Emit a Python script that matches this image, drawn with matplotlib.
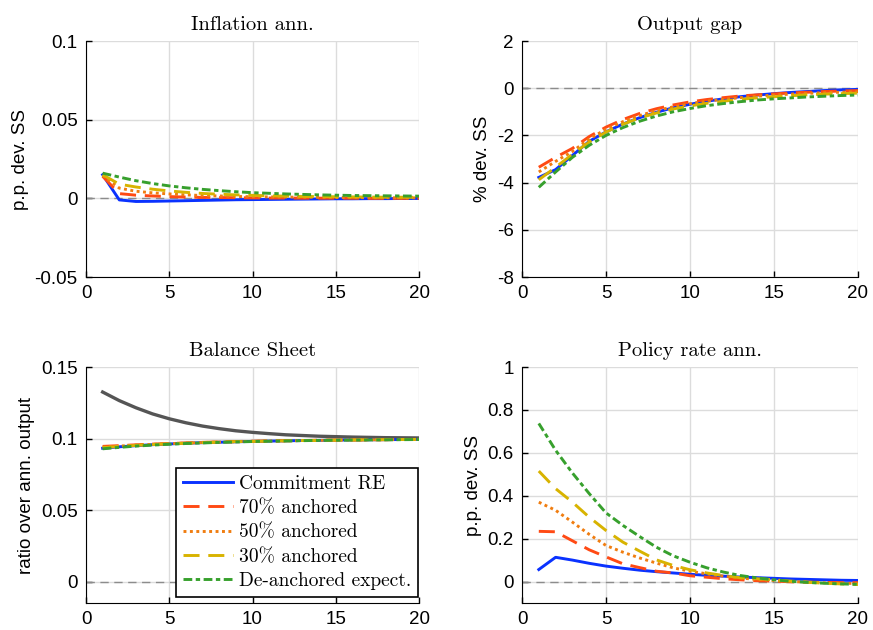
import numpy as np
import matplotlib
matplotlib.use("Agg")
import matplotlib.pyplot as plt

plt.rcParams['font.family'] = ['Liberation Sans', 'DejaVu Sans']
plt.rcParams['axes.unicode_minus'] = False

# horizon
t = np.arange(1, 21)

labels = ['Commitment RE', '70% anchored', '50% anchored', '30% anchored', 'De-anchored expect.']

# Inflation ann.
infl_re = [0.015, -0.001, -0.002, -0.0019, -0.0017, -0.0015, -0.0013, -0.0011, -0.0009, -0.0008,
           -0.0007, -0.0006, -0.0005, -0.0004, -0.0003, -0.0003, -0.0002, -0.0002, -0.0001, -0.0001]
infl_70 = [0.014, 0.003, 0.002, 0.0015, 0.0011, 0.0008, 0.0006, 0.0005, 0.0004, 0.0003,
           0.0002, 0.0002, 0.0001, 0.0001, 0.0001, 0.0001, 0.0, 0.0, 0.0, 0.0]
infl_50 = [0.0145, 0.0065, 0.0045, 0.0035, 0.0028, 0.0022, 0.0018, 0.0015, 0.0012, 0.001,
           0.0009, 0.0008, 0.0007, 0.0006, 0.0005, 0.0005, 0.0004, 0.0004, 0.0003, 0.0003]
infl_30 = [0.015, 0.009, 0.0072, 0.0058, 0.0047, 0.0038, 0.0031, 0.0026, 0.0022, 0.0019,
           0.0016, 0.0014, 0.0012, 0.0011, 0.001, 0.0009, 0.0008, 0.0007, 0.0007, 0.0006]
infl_de = [0.016, 0.0135, 0.0112, 0.0094, 0.0079, 0.0067, 0.0057, 0.0049, 0.0042, 0.0036,
           0.0032, 0.0028, 0.0025, 0.0022, 0.002, 0.0018, 0.0017, 0.0016, 0.0015, 0.0014]

# Output gap
gap_re = [-3.78, -3.45, -2.85, -2.25, -1.85, -1.52, -1.25, -1.02, -0.83, -0.68,
          -0.55, -0.45, -0.36, -0.29, -0.23, -0.18, -0.14, -0.1, -0.07, -0.05]
gap_70 = [-3.35, -2.93, -2.55, -2.05, -1.65, -1.33, -1.07, -0.87, -0.71, -0.58,
          -0.48, -0.4, -0.33, -0.28, -0.24, -0.2, -0.17, -0.14, -0.12, -0.1]
gap_50 = [-3.55, -3.1, -2.68, -2.15, -1.74, -1.42, -1.16, -0.95, -0.79, -0.66,
          -0.55, -0.47, -0.4, -0.34, -0.29, -0.25, -0.22, -0.19, -0.17, -0.15]
gap_30 = [-3.88, -3.35, -2.8, -2.28, -1.86, -1.53, -1.26, -1.05, -0.88, -0.75,
          -0.64, -0.55, -0.47, -0.41, -0.36, -0.32, -0.28, -0.25, -0.23, -0.21]
gap_de = [-4.2, -3.55, -2.93, -2.42, -2.0, -1.67, -1.4, -1.18, -1.0, -0.86,
          -0.74, -0.65, -0.57, -0.5, -0.45, -0.41, -0.37, -0.34, -0.31, -0.29]

# Balance sheet
bs_gray = [0.1325, 0.1265, 0.1215, 0.1172, 0.1138, 0.1110, 0.1087, 0.1069, 0.1054, 0.1043,
           0.1034, 0.1026, 0.1021, 0.1016, 0.1013, 0.1010, 0.1008, 0.1006, 0.1005, 0.1004]
bs_re = [0.0932, 0.0942, 0.0950, 0.0957, 0.0962, 0.0967, 0.0971, 0.0974, 0.0977, 0.0980,
         0.0982, 0.0984, 0.0986, 0.0987, 0.0989, 0.0990, 0.0991, 0.0992, 0.0993, 0.0994]
bs_70 = [0.0945, 0.0950, 0.0956, 0.0961, 0.0965, 0.0969, 0.0973, 0.0976, 0.0979, 0.0981,
         0.0983, 0.0985, 0.0986, 0.0988, 0.0989, 0.0990, 0.0991, 0.0992, 0.0993, 0.0994]
bs_50 = [0.0940, 0.0947, 0.0954, 0.0959, 0.0964, 0.0968, 0.0972, 0.0975, 0.0978, 0.0980,
         0.0982, 0.0984, 0.0986, 0.0987, 0.0989, 0.0990, 0.0991, 0.0992, 0.0993, 0.0994]
bs_30 = [0.0936, 0.0945, 0.0952, 0.0958, 0.0963, 0.0967, 0.0971, 0.0975, 0.0978, 0.0980,
         0.0982, 0.0984, 0.0986, 0.0987, 0.0989, 0.0990, 0.0991, 0.0992, 0.0993, 0.0994]
bs_de = [0.0928, 0.0938, 0.0947, 0.0954, 0.0960, 0.0965, 0.0969, 0.0973, 0.0976, 0.0979,
         0.0981, 0.0983, 0.0985, 0.0987, 0.0988, 0.0989, 0.0990, 0.0991, 0.0992, 0.0993]

# Policy rate ann.
rate_re = [0.056, 0.113, 0.1, 0.085, 0.072, 0.062, 0.053, 0.046, 0.04, 0.034,
           0.029, 0.025, 0.021, 0.018, 0.015, 0.012, 0.01, 0.008, 0.006, 0.005]
rate_70 = [0.234, 0.232, 0.19, 0.148, 0.115, 0.083, 0.065, 0.048, 0.04, 0.027,
           0.02, 0.013, 0.008, 0.004, 0.002, -0.001, -0.003, -0.004, -0.005, -0.005]
rate_50 = [0.37, 0.332, 0.277, 0.22, 0.168, 0.137, 0.11, 0.086, 0.064, 0.048,
           0.036, 0.025, 0.016, 0.01, 0.005, 0.0, -0.003, -0.006, -0.008, -0.009]
rate_30 = [0.515, 0.433, 0.37, 0.3, 0.238, 0.184, 0.142, 0.101, 0.075, 0.055,
           0.04, 0.028, 0.018, 0.013, 0.008, 0.002, -0.003, -0.008, -0.011, -0.014]
rate_de = [0.737, 0.612, 0.506, 0.41, 0.32, 0.262, 0.21, 0.16, 0.12, 0.09,
           0.064, 0.044, 0.028, 0.017, 0.008, 0.001, -0.004, -0.008, -0.011, -0.013]

colors = ['#0a32ff', '#ff4a14', '#f07d10', '#d8b300', '#37a02d']
styles = ['-', (0, (5.5, 3)), (0, (1, 1.2)), (0, (5.5, 3)), (0, (3, 1.2, 1.5, 1.2))]

serif = 'cmr10'

fig = plt.figure(figsize=(8.73, 6.3), dpi=100)
W, H = 873, 630
boxes = [(86, 41, 419, 277), (522, 41, 858, 277), (86, 367, 419, 603), (522, 367, 858, 603)]
axs = [fig.add_axes([x0 / W, 1 - y1 / H, (x1 - x0) / W, (y1 - y0) / H]) for x0, y0, x1, y1 in boxes]

panels = [
    ('Inflation ann.', 'p.p. dev. SS', [infl_re, infl_70, infl_50, infl_30, infl_de],
     (-0.05, 0.1), [-0.05, 0, 0.05, 0.1], ['-0.05', '0', '0.05', '0.1']),
    ('Output gap', '% dev. SS', [gap_re, gap_70, gap_50, gap_30, gap_de],
     (-8, 2), [-8, -6, -4, -2, 0, 2], ['-8', '-6', '-4', '-2', '0', '2']),
    ('Balance Sheet', 'ratio over ann. output', [bs_re, bs_70, bs_50, bs_30, bs_de],
     (-0.015, 0.15), [0, 0.05, 0.1, 0.15], ['0', '0.05', '0.1', '0.15']),
    ('Policy rate ann.', 'p.p. dev. SS', [rate_re, rate_70, rate_50, rate_30, rate_de],
     (-0.1, 1), [0, 0.2, 0.4, 0.6, 0.8, 1], ['0', '0.2', '0.4', '0.6', '0.8', '1']),
]

for k, (ax, (title, ylab, series, ylim, yt, ytl)) in enumerate(zip(axs, panels)):
    ax.grid(True, color='#dcdcdc', linewidth=1)
    ax.set_axisbelow(True)
    ax.axhline(0, color='#8c8c8c', linestyle=(0, (6, 4)), linewidth=1, zorder=1)
    if k == 2:
        ax.plot(t, bs_gray, color='#555555', linewidth=2.4, zorder=2)
    for i in range(5):
        ax.plot(t, series[i], color=colors[i], linestyle=styles[i], linewidth=2.1,
                label=labels[i], zorder=3 + i)
    ax.set_xlim(0, 20)
    ax.set_ylim(*ylim)
    ax.set_xticks([0, 5, 10, 15, 20])
    ax.set_yticks(yt)
    ax.set_yticklabels(ytl)
    ax.tick_params(direction='in', labelsize=13.5, length=4, width=1, pad=6)
    ax.spines['top'].set_visible(False)
    ax.spines['right'].set_visible(False)
    ax.set_title(title, fontsize=14.8, family=serif, pad=8)
    ax.set_ylabel(ylab, fontsize=13.5, labelpad=4)

leg = axs[2].legend(loc='lower right', bbox_to_anchor=(0.997, 0.025), prop={'family': serif, 'size': 14},
                    frameon=True, fancybox=False, framealpha=1, edgecolor='black',
                    handlelength=2.6, handletextpad=0.3, borderpad=0.35, labelspacing=0.33,
                    borderaxespad=0)
leg.get_frame().set_linewidth(1.2)

fig.savefig('out.png', dpi=100)
